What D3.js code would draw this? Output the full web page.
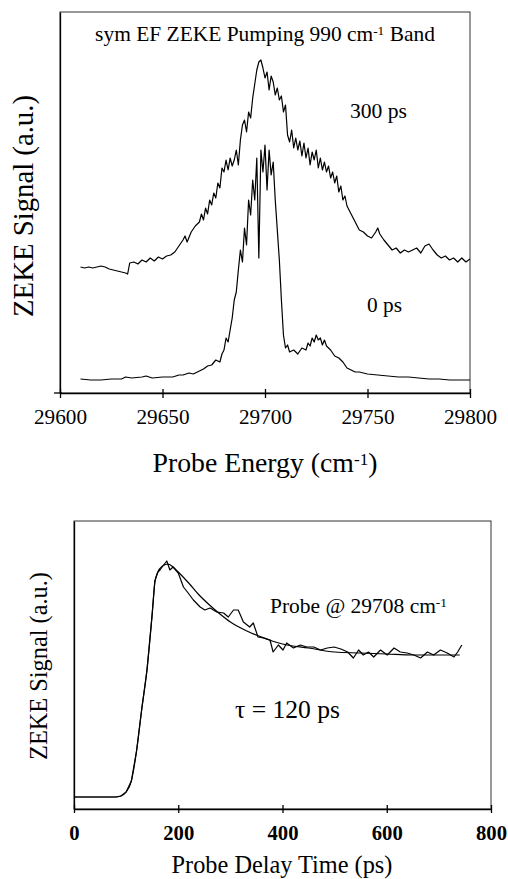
<!DOCTYPE html>
<html>
<head>
<meta charset="utf-8">
<script src="https://cdn.jsdelivr.net/npm/d3@7"></script>
<style>
  body { margin: 0; background: #fff; }
  svg { display: block; }
  svg text { font-family: 'Liberation Serif', 'DejaVu Serif', 'Noto Serif', Times, serif !important; fill: #000; }
  .axis path, .axis line { stroke: #000; stroke-width: 1.3; }
  .trace { fill: none; stroke: #000; stroke-width: 1.2; stroke-linejoin: round; }
</style>
</head>
<body>
<div id="chart"></div>
<script>
// ---- top panel: ZEKE spectra (probe energy, cm-1) ----
const energy300 = [29610,29612,29614,29616,29618,29620,29622,29624,29626,29628,29630,29632,29633,29634,29636,29638,29640,29642,29644,29646,29648,29650,29652,29654,29656,29658,29660,29661,29662,29664,29666,29668,29669,29670,29671,29672,29673,29674,29675,29676,29677,29678,29679,29680,29681,29682,29683,29684,29685,29686,29687,29688,29689,29690,29691,29692,29693,29694,29695,29696,29697,29698,29699,29700,29701,29702,29703,29704,29705,29706,29707,29708,29709,29710,29711,29712,29713,29714,29715,29716,29717,29718,29719,29720,29721,29722,29723,29724,29725,29726,29727,29728,29729,29730,29731,29732,29733,29734,29735,29736,29737,29738,29739,29740,29742,29744,29746,29748,29750,29752,29754,29755,29756,29758,29760,29762,29764,29766,29768,29770,29772,29774,29776,29778,29780,29782,29784,29786,29788,29790,29792,29794,29796,29798,29800];
const signal300 = [126,125,126,125,126,127,126,124,123,122,121,120,119,130,131,129,133,131,135,132,136,134,137,138,141,147,153,157,151,161,167,171,179,173,185,179,193,188,200,195,210,205,225,221,233,223,235,227,233,243,228,253,268,273,261,281,275,295,309,323,331,333,325,315,321,303,317,311,298,305,293,297,281,288,258,251,263,245,255,243,252,237,250,235,245,228,241,233,243,225,235,223,231,221,227,215,221,210,217,201,207,193,197,187,179,171,163,161,157,155,161,165,159,153,148,143,145,140,143,141,143,145,140,147,149,143,138,135,137,133,135,131,135,131,134];

const energy0 = [29610,29615,29620,29625,29630,29632,29635,29640,29642,29645,29650,29655,29658,29660,29663,29665,29668,29670,29672,29674,29676,29678,29679,29680,29681,29682,29683,29684,29685,29686,29687,29688,29689,29690,29691,29692,29693,29694,29695,29696,29697,29698,29699,29700,29701,29702,29703,29704,29705,29706,29707,29708,29709,29710,29711,29712,29714,29716,29718,29720,29721,29722,29723,29724,29725,29726,29727,29728,29729,29730,29732,29734,29736,29738,29740,29742,29744,29746,29748,29750,29755,29760,29765,29770,29775,29780,29785,29790,29795,29800];
const signal0 = [14,13,13,14,14,16,15,16,17,15,16,16,18,18,20,19,22,24,27,28,33,31,39,43,55,51,63,75,93,101,123,143,131,165,148,193,178,213,193,235,135,243,221,248,203,243,218,231,193,163,133,93,58,45,48,41,43,39,45,43,50,47,55,51,58,53,55,48,53,47,43,37,35,31,25,23,21,21,20,19,18,17,16,16,15,14,14,13,13,13];

const energyTicks = [29600, 29650, 29700, 29750, 29800];

// ---- bottom panel: decay at 29708 cm-1 ----
const delayData = [0,40,80,90,100,110,120,130,140,150,155,161,165,169,178,184,190,200,210,219,229,242,251,261,274,287,296,306,315,325,337,344,353,363,376,382,392,401,408,421,434,447,460,473,486,499,512,525,536,546,555,565,575,588,601,614,626,639,652,665,678,690,703,716,729,736,744];
const signalData = [12,12,12,13,17,28,58,100,139,195,228,237,239,242,248,239,242,236,222,216,209,202,199,201,197,196,192,199,199,187,182,186,172,171,169,157,164,159,166,161,164,162,162,159,161,162,160,157,151,159,154,157,152,159,154,161,157,156,154,151,157,154,159,156,152,157,164];

const delayFit = [0,50,80,90,100,110,120,130,140,150,155,160,170,180,190,200,220,240,260,280,300,320,340,360,380,400,450,500,550,600,650,700,740];
const signalFit = [12,12,12,13,17,28,58,100,139,195,226,236,243,245,242,237,226,214,204,195,187,181,176,172,168,165,161,157,156,155,154,154,154];

const delayTicks = [0, 200, 400, 600, 800];

const W = 508, H = 879;
const svg = d3.select('#chart').append('svg')
  .attr('width', W)
  .attr('height', H)
  .attr('font-family', "'Liberation Serif', 'DejaVu Serif', serif");

// text with a superscript part (em based, so it scales with the parent)
function supText(sel, before, sup, after) {
  sel.append('tspan').text(before);
  sel.append('tspan').attr('dy', '-0.42em').attr('font-size', '0.62em').text(sup);
  if (after) sel.append('tspan').attr('dy', '0.26em').text(after);
  return sel;
}

// scale the font so the text spans the width seen in the reference
function fitWidth(sel, width) {
  const s = parseFloat(sel.attr('font-size'));
  const len = sel.node().getComputedTextLength();
  if (len > 0) sel.attr('font-size', s * width / len);
  return sel;
}

// ===== top panel =====
const p1 = {left: 60, right: 470, top: 12, bottom: 393};

const x1 = d3.scaleLinear().domain([29600, 29800]).range([p1.left, p1.right]);
const y1 = d3.scaleLinear().domain([0, 381]).range([p1.bottom, p1.top]);

svg.append('rect')
  .attr('x', p1.left).attr('y', p1.top)
  .attr('width', p1.right - p1.left).attr('height', p1.bottom - p1.top)
  .attr('fill', 'none').attr('stroke', '#333').attr('stroke-width', 1);

const xAxis1 = d3.axisBottom(x1)
  .tickValues(energyTicks)
  .tickFormat(d3.format('d'))
  .tickSizeInner(5)
  .tickSizeOuter(0)
  .tickPadding(11);

svg.append('g')
  .attr('class', 'x axis')
  .attr('transform', `translate(0,${p1.bottom})`)
  .call(xAxis1)
  .call(g => g.attr('font-family', null))
  .call(g => g.selectAll('line').attr('y1', -4))
  .call(g => g.selectAll('text').attr('font-size', 20).each(function () { fitWidth(d3.select(this), 53); }));

svg.append('g')
  .attr('class', 'y axis')
  .attr('transform', `translate(${p1.left},0)`)
  .call(d3.axisLeft(y1).tickValues([]).tickSizeOuter(0));

svg.append('line')
  .attr('x1', p1.left - 6).attr('x2', p1.left + 2)
  .attr('y1', p1.bottom).attr('y2', p1.bottom)
  .attr('stroke', '#000').attr('stroke-width', 1.3);

const line300 = d3.line()
  .x((d, i) => x1(energy300[i]))
  .y(d => y1(d));
const line0 = d3.line()
  .x((d, i) => x1(energy0[i]))
  .y(d => y1(d));

svg.append('path').datum(signal300).attr('class', 'trace').attr('d', line300);
svg.append('path').datum(signal0).attr('class', 'trace').attr('d', line0);

fitWidth(supText(svg.append('text')
  .attr('x', 265).attr('y', 41)
  .attr('text-anchor', 'middle')
  .attr('font-size', 20), 'sym EF ZEKE Pumping 990 cm', '-1', ' Band'), 340);

fitWidth(svg.append('text').attr('x', 350).attr('y', 118).attr('font-size', 18).text('300 ps'), 57);
fitWidth(svg.append('text').attr('x', 367).attr('y', 312).attr('font-size', 18).text('0 ps'), 35);

fitWidth(supText(svg.append('text')
  .attr('x', 265).attr('y', 472)
  .attr('text-anchor', 'middle')
  .attr('font-size', 24), 'Probe Energy (cm', '-1', ')'), 225);

fitWidth(svg.append('text')
  .attr('transform', 'translate(33,206) rotate(-90)')
  .attr('text-anchor', 'middle')
  .attr('font-size', 22)
  .text('ZEKE Signal (a.u.)'), 222);

// ===== bottom panel =====
const p2 = {left: 74, right: 491, top: 521, bottom: 809};

const x2 = d3.scaleLinear().domain([0, 800]).range([p2.left, p2.right]);
const y2 = d3.scaleLinear().domain([0, 288]).range([p2.bottom, p2.top]);

svg.append('rect')
  .attr('x', p2.left).attr('y', p2.top)
  .attr('width', p2.right - p2.left).attr('height', p2.bottom - p2.top)
  .attr('fill', 'none').attr('stroke', '#333').attr('stroke-width', 1);

const xAxis2 = d3.axisBottom(x2)
  .tickValues(delayTicks)
  .tickFormat(d3.format('d'))
  .tickSizeInner(4)
  .tickSizeOuter(0)
  .tickPadding(12);

svg.append('g')
  .attr('class', 'x axis')
  .attr('transform', `translate(0,${p2.bottom})`)
  .call(xAxis2)
  .call(g => g.attr('font-family', null))
  .call(g => g.selectAll('line').attr('y1', -4))
  .call(g => g.selectAll('text').attr('font-size', 20).attr('font-weight', 'bold')
    .each(function (d) { if (d === 200) fitWidth(d3.select(this), 31); }))
  .call(g => {
    const fs = g.selectAll('text').filter(d => d === 200).attr('font-size');
    g.selectAll('text').attr('font-size', fs);
  });

svg.append('g')
  .attr('class', 'y axis')
  .attr('transform', `translate(${p2.left},0)`)
  .call(d3.axisLeft(y2).tickValues([]).tickSizeOuter(0));

const fitLine = d3.line()
  .curve(d3.curveMonotoneX)
  .x((d, i) => x2(delayFit[i]))
  .y(d => y2(d));
const dataLine = d3.line()
  .x((d, i) => x2(delayData[i]))
  .y(d => y2(d));

svg.append('path').datum(signalFit).attr('class', 'trace').attr('stroke-width', 1.4).attr('d', fitLine);
svg.append('path').datum(signalData).attr('class', 'trace').attr('stroke-width', 1).attr('d', dataLine);

fitWidth(supText(svg.append('text')
  .attr('x', 270).attr('y', 613)
  .attr('font-size', 18), 'Probe @ 29708 cm', '-1', ''), 177);

fitWidth(svg.append('text').attr('x', 235).attr('y', 718).attr('font-size', 20).text('\u03c4 = 120 ps'), 105);

fitWidth(svg.append('text')
  .attr('x', 282).attr('y', 873)
  .attr('text-anchor', 'middle')
  .attr('font-size', 20)
  .text('Probe Delay Time (ps)'), 221);

fitWidth(svg.append('text')
  .attr('transform', 'translate(47,666) rotate(-90)')
  .attr('text-anchor', 'middle')
  .attr('font-size', 18)
  .text('ZEKE Signal (a.u.)'), 188);
</script>
</body>
</html>
